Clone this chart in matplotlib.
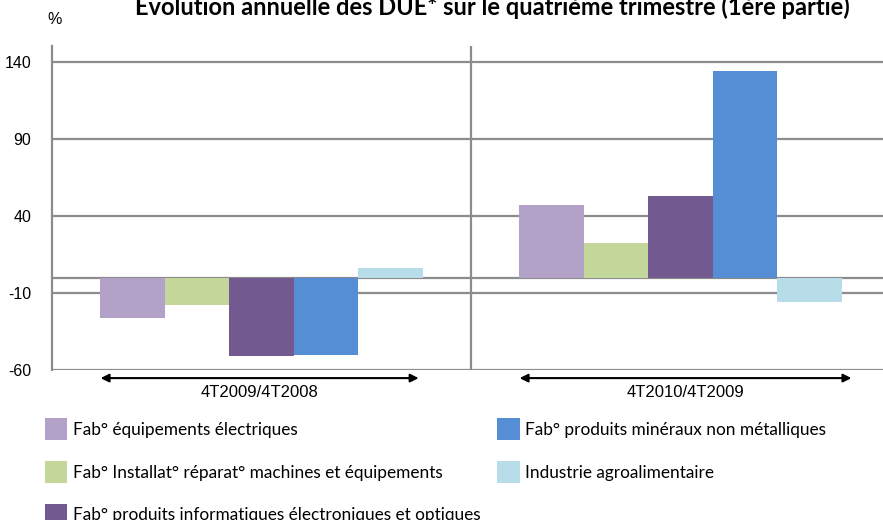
import numpy as np
import matplotlib
matplotlib.use("Agg")
import matplotlib.pyplot as plt
import matplotlib.transforms as mtransforms

# periods and series (evolution in %)
periods = ["4T2009/4T2008", "4T2010/4T2009"]
series = [
    "Fab° équipements électriques",
    "Fab° Installat° réparat° machines et équipements",
    "Fab° produits informatiques électroniques et optiques",
    "Fab° produits minéraux non métalliques",
    "Industrie agroalimentaire",
]
values = [
    [-26.0, 47.0],
    [-18.0, 22.5],
    [-51.0, 53.0],
    [-50.0, 134.0],
    [6.5, -16.0],
]
colors = ["#B3A2C7", "#C4D79B", "#72598F", "#558ED5", "#B7DEE8"]
yticks = [140, 90, 40, -10, -60]

W, H = 883, 520
fig = plt.figure(figsize=(W / 100, H / 100), dpi=100)
ax = fig.add_axes([52 / W, 1 - 370 / H, 838 / W, 324 / H])

x = np.arange(len(periods))
width = 0.1537
for i, (name, vals) in enumerate(zip(series, values)):
    ax.bar(x + (i - 2) * width, vals, width, color=colors[i], label=name, zorder=2)

ax.set_xlim(-0.5, 1.5)
ax.set_ylim(-60, 150.5)
ax.set_yticks(yticks)
ax.set_yticklabels([str(t) for t in yticks], family="Liberation Sans", fontsize=11.5)
ax.set_xticks([])
ax.tick_params(axis="y", length=0, pad=15)

grid_c = "#8C8C8C"
for t in yticks:
    ax.axhline(t, color=grid_c, lw=1.6, zorder=1)
ax.axhline(0, color=grid_c, lw=1.6, zorder=1)
ax.axvline(0.5, color=grid_c, lw=1.6, zorder=1)
for s in ["top", "right", "bottom"]:
    ax.spines[s].set_visible(False)
ax.spines["left"].set_color(grid_c)
ax.spines["left"].set_linewidth(1.6)

# period arrows below the plot
trans = mtransforms.blended_transform_factory(ax.transData, ax.transAxes)
arrow_span = [(-0.384, 0.375), (-0.384, 0.408)]
for xi, (a, b), lab in zip(x, arrow_span, periods):
    ax.annotate("", xy=(xi + a, -0.025), xytext=(xi + b, -0.025),
                xycoords=trans, textcoords=trans, annotation_clip=False,
                arrowprops=dict(arrowstyle="<|-|>", color="black", lw=1.5,
                                mutation_scale=12, shrinkA=0, shrinkB=0))
    ax.text(xi + (a + b) / 2, -0.07, lab, transform=trans, ha="center", va="center",
            family="Liberation Sans", fontsize=12)

fig.text(55 / W, 1 - 20 / H, "%", family="Liberation Sans", fontsize=11.5,
         ha="center", va="center")
fig.text(492 / W, 1 - 7 / H,
         "Evolution annuelle des DUE* sur le quatrième trimestre (1ère partie)",
         family="Lato", fontweight="bold", fontsize=17, ha="center", va="center")

fig.legend(loc="upper left", bbox_to_anchor=(45 / W, 1 - 418 / H), ncol=2,
           frameon=False, prop=dict(family="Lato", size=12.4),
           handlelength=1.3, handleheight=1.6, handletextpad=0.3,
           labelspacing=1.2, columnspacing=1.0, borderpad=0, borderaxespad=0)

fig.savefig("out.png", dpi=100)
